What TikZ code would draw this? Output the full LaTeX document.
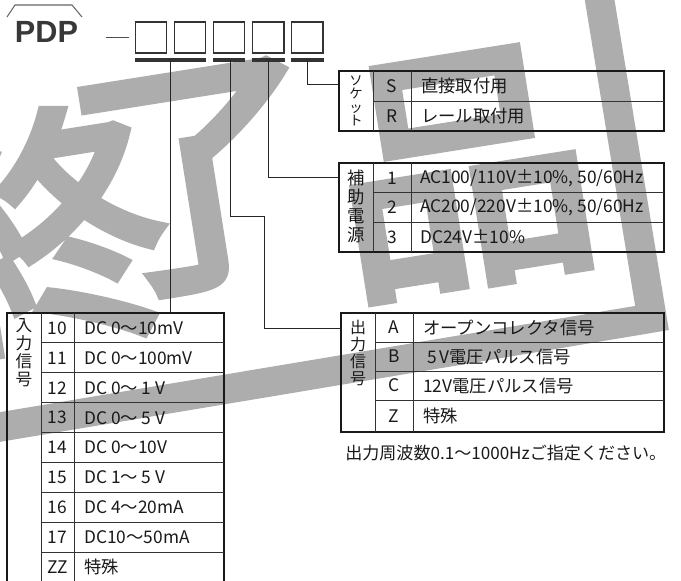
\documentclass[tikz,border=0pt]{standalone}
\usepackage{fontspec}
\setmainfont{Noto Sans CJK JP}
\newfontfamily\pdpfont{Liberation Sans}
\newfontfamily\stampfont[FakeBold=4]{Noto Sans CJK JP}
\usetikzlibrary{positioning}

\begin{document}
\begin{tikzpicture}[x=0.75pt, y=-0.75pt,
        stamp/.style = {black!32, inner sep=0pt, rotate=9, font=\stampfont\fontsize{#1}{#1}\selectfont},
        stampline/.style = {black!32, line width=22pt},
        digit/.style = {draw=black!80, line width=1.1pt, minimum size=23.4pt, inner sep=0pt},
        bar/.style = {black!80, line width=2.6pt},
        lead/.style = {black!85, line width=0.7pt},
        frame/.style = {black!90, line width=1.4pt},
        rule/.style = {black!80, line width=0.7pt},
        item/.style = {anchor=west, inner sep=0pt, text=black!90, font=\fontsize{13}{15}\selectfont},
        code/.style = {inner sep=0pt, text=black!90, font=\fontsize{13}{15}\selectfont},
        vtext/.style 2 args = {anchor=north, inner sep=0pt, align=center, text=black!90, font=\fontsize{#1}{#2}\selectfont},
        ]
        \useasboundingbox (0,0) rectangle (681,581);

        \node[stamp=190] (wm1) at (40,230) {終};
        \node[stamp=190] (wm2) at (200,180) {了};
        \node[stamp=195] (wm3) at (462,172) {品};
        \draw[stampline] (-30,432) -- (652,318) -- (598,-10);

        \node[font=\pdpfont\bfseries\fontsize{23}{23}\selectfont, text=black!78, inner sep=0pt] (pdp) at (46.5,32) {PDP};
        \draw[black!60, line width=0.8pt] (7,17) -- (15,5) -- (72,5) -- (82,17);

        \node[digit] (b1) at (151,37.5) {};
        \node[digit, right=4.8pt of b1] (b2) {};
        \node[digit, right=4.8pt of b2] (b3) {};
        \node[digit, right=4.8pt of b3] (b4) {};
        \node[digit, right=4.8pt of b4] (b5) {};
        \draw[black!70, line width=0.9pt] ([xshift=-4pt]b1.west) -- ++(-23,0);

        \draw[bar] ([yshift=-4.5pt]b1.south west) -- ([yshift=-4.5pt]b2.south east);
        \foreach \b in {b3,b4,b5}
            \draw[bar] ([yshift=-4.5pt]\b.south west) -- ([yshift=-4.5pt]\b.south east);
        \coordinate (u1) at ([xshift=2.4pt,yshift=-4.5pt]b1.south east);
        \coordinate (u2) at ([xshift=1pt,yshift=-4.5pt]b3.south);
        \coordinate (u3) at ([yshift=-4.5pt]b4.south);
        \coordinate (u4) at ([yshift=-4.5pt]b5.south);

        % socket
        \draw[frame] (339,71) rectangle (664,131);
        \draw[rule] (373,71) -- (373,131) (411,71) -- (411,131) (373,101) -- (664,101);
        \coordinate (sockin) at (339,84);
        \node[vtext={10}{10.2}] (sockl) at (356,75) {ソ\\ケ\\ッ\\ト};
        \node[code] (sS) at (392,86) {S};
        \node[item] (sSt) at (421,86) {直接取付用};
        \node[code] (sR) at (392,116) {R};
        \node[item] (sRt) at (421,116) {レール取付用};

        % power
        \draw[frame] (339,163) rectangle (664,252);
        \draw[rule] (373,163) -- (373,252) (411,163) -- (411,252)
            (373,192.7) -- (664,192.7) (373,222.3) -- (664,222.3);
        \coordinate (powin) at (339,177);
        \node[vtext={13}{14.2}] (powl) at (356,170) {補\\助\\電\\源};
        \node[code] (p1) at (392,178) {1};
        \node[item] (p1t) at (420,178) {AC100/110V±10\%, 50/60Hz};
        \node[code] (p2) at (392,207.5) {2};
        \node[item] (p2t) at (420,207.5) {AC200/220V±10\%, 50/60Hz};
        \node[code] (p3) at (392,237) {3};
        \node[item] (p3t) at (420,237) {DC24V±10\%};

        % output
        \draw[frame] (341,313) rectangle (664,432);
        \draw[rule] (375,313) -- (375,432) (413,313) -- (413,432)
            (375,342) -- (664,342) (375,371) -- (664,371) (375,400) -- (664,400);
        \coordinate (outin) at (341,328);
        \node[vtext={12}{12.6}] (outl) at (358,320) {出\\力\\信\\号};
        \foreach \c/\t/\y in {A/オープンコレクタ信号/327.5, B/\ 5\,V電圧パルス信号/356.5, C/12V電圧パルス信号/385.5, Z/特殊/416} {
            \node[code] (o\c) at (394,\y) {\c};
            \node[item] (o\c t) at (423,\y) {\t};
        }
        \node[item, font=\fontsize{12.8}{15}\selectfont] (note) at (345,453) {出力周波数0.1～1000Hzご指定ください。};

        % input
        \draw[frame] (7,313) rectangle (224,584);
        \draw[rule] (41,313) -- (41,584) (74,313) -- (74,584);
        \foreach \k in {1,...,8}
            \draw[rule] (41,{313+29.9*\k}) -- (224,{313+29.9*\k});
        \coordinate (intop) at (169.5,313);
        \node[vtext={12.5}{13.5}] (inl) at (24,318) {入\\力\\信\\号};
        \foreach \c/\t [count=\i from 0] in {10/DC 0～10mV, 11/DC 0～100mV, 12/DC 0～ 1 V, 13/DC 0～ 5 V, 14/DC 0～10V, 15/DC 1～ 5 V, 16/DC 4～20mA, 17/DC10～50mA, ZZ/特殊} {
            \node[code] (i\c) at (57.5,{328+29.9*\i}) {\c};
            \node[item] (i\c t) at (84,{328+29.9*\i}) {\t};
        }

        \draw[lead] (u4) |- (sockin);
        \draw[lead] (u3) |- (powin);
        \draw[lead] (u2) |- (264,216) |- (outin);
        \draw[lead] (u1) -- (u1 |- intop);
    \end{tikzpicture}
\end{document}
